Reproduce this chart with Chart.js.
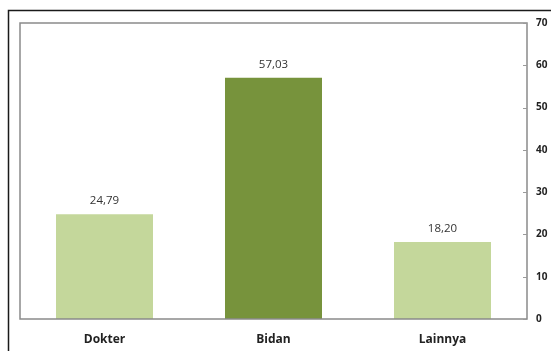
<!DOCTYPE html>
<html>
<head>
<meta charset="utf-8">
<script src="https://cdn.jsdelivr.net/npm/chart.js@4"></script>
<style>
  html, body { margin: 0; padding: 0; background: #fff; }
  #wrap { width: 551px; height: 351px; position: relative; }
</style>
</head>
<body>
<div id="wrap"><canvas id="c" width="551" height="351"></canvas></div>
<script>
const categories = ['Dokter', 'Bidan', 'Lainnya'];
const values = [24.79, 57.03, 18.20];
const barColors = ['#C4D79B', '#77933C', '#C4D79B'];
const yTicks = [0, 10, 20, 30, 40, 50, 60, 70];

const fontFamily = '"Open Sans", "Noto Sans", "Liberation Sans", sans-serif';

// outer frame, plot border, inner tick marks and value labels
const decorations = {
  id: 'decorations',
  beforeDraw(chart) {
    const ctx = chart.ctx;
    ctx.save();
    ctx.strokeStyle = '#1a1a1a';
    ctx.lineWidth = 1.5;
    ctx.beginPath();
    ctx.moveTo(8.5, 351);
    ctx.lineTo(8.5, 10.5);
    ctx.lineTo(551, 10.5);
    ctx.stroke();
    ctx.restore();
  },
  afterDatasetsDraw(chart) {
    const ctx = chart.ctx;
    const a = chart.chartArea;
    const y = chart.scales.y;
    ctx.save();
    ctx.strokeStyle = '#8a8a8a';
    ctx.lineWidth = 1.5;
    ctx.strokeRect(a.left, a.top, a.right - a.left, a.bottom - a.top);
    ctx.lineWidth = 1;
    ctx.strokeStyle = '#9a9a9a';
    yTicks.forEach(v => {
      const py = Math.round(y.getPixelForValue(v)) + 0.5;
      ctx.beginPath();
      ctx.moveTo(a.right - 4, py);
      ctx.lineTo(a.right, py);
      ctx.stroke();
    });
    ctx.fillStyle = '#333';
    ctx.font = '11.5px ' + fontFamily;
    ctx.textAlign = 'center';
    ctx.textBaseline = 'middle';
    const meta = chart.getDatasetMeta(0);
    meta.data.forEach((bar, i) => {
      ctx.fillText(values[i].toFixed(2).replace('.', ','), bar.x, bar.y - 13);
    });
    ctx.restore();
  }
};

new Chart(document.getElementById('c'), {
  type: 'bar',
  data: {
    labels: categories,
    datasets: [{
      data: values,
      backgroundColor: barColors,
      borderWidth: 0,
      barPercentage: 0.574,
      categoryPercentage: 1
    }]
  },
  options: {
    responsive: false,
    animation: false,
    devicePixelRatio: 1,
    layout: { padding: { left: 20, top: 23, right: 0, bottom: 0 } },
    plugins: { legend: { display: false }, tooltip: { enabled: false } },
    scales: {
      x: {
        grid: { display: false },
        border: { display: false },
        ticks: {
          color: '#222',
          padding: 5,
          font: { family: fontFamily, size: 12, weight: 'bold' }
        },
        afterFit(s) { s.height = 32; }
      },
      y: {
        position: 'right',
        min: 0,
        max: 70,
        afterBuildTicks(s) { s.ticks = yTicks.map(v => ({ value: v })); },
        grid: { display: false, drawTicks: false },
        border: { display: false },
        ticks: {
          color: '#222',
          padding: 9,
          font: { family: fontFamily, size: 10, weight: 'bold' }
        },
        afterFit(s) { s.width = 24; }
      }
    }
  },
  plugins: [decorations]
});
</script>
</body>
</html>
